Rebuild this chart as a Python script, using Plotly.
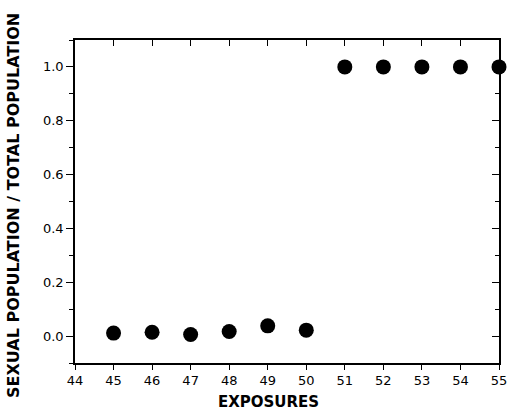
import plotly.graph_objects as go

exposures = [45, 46, 47, 48, 49, 50, 51, 52, 53, 54, 55]
ratio = [0.011, 0.014, 0.006, 0.017, 0.038, 0.022, 1.0, 1.0, 1.0, 1.0, 1.0]
x_ticks = list(range(44, 56))
y_ticks = [0.0, 0.2, 0.4, 0.6, 0.8, 1.0]
y_labels = ["0.0", "0.2", "0.4", "0.6", "0.8", "1.0"]
y_minor = [-0.1, 0.1, 0.3, 0.5, 0.7, 0.9, 1.1]

FONT = "DejaVu Sans"
L, R, T, B = 75, 13, 40, 51
W, H = 512, 414
PW, PH = W - L - R, H - T - B

fig = go.Figure()
fig.add_trace(go.Scatter(x=exposures, y=ratio, mode="markers",
                         marker=dict(size=15, color="black"),
                         cliponaxis=False, showlegend=False))

fig.update_layout(
    width=W, height=H,
    margin=dict(l=L, r=R, t=T, b=B, autoexpand=False),
    paper_bgcolor="white", plot_bgcolor="white",
    font=dict(family=FONT, size=13, color="black"),
    xaxis=dict(range=[44, 55], tickvals=x_ticks, ticktext=[str(v) for v in x_ticks],
               ticks="outside", ticklen=5, tickwidth=1, tickcolor="black",
               showline=True, linecolor="black", linewidth=1.5, showgrid=False,
               zeroline=False, automargin=False, tickfont=dict(size=13)),
    yaxis=dict(range=[-0.1, 1.1], tickvals=y_ticks, ticktext=y_labels,
               ticks="outside", ticklen=7, tickwidth=1, tickcolor="black",
               showline=True, linecolor="black", linewidth=1.5, showgrid=False,
               zeroline=False, automargin=False, tickfont=dict(size=13),
               minor=dict(tickvals=y_minor, ticks="outside", ticklen=4, tickcolor="black")),
    xaxis2=dict(range=[44, 55], overlaying="x", side="top", tickvals=x_ticks,
                ticks="inside", ticklen=6, tickcolor="black", showticklabels=False,
                showline=True, linecolor="black", linewidth=1.5, showgrid=False,
                zeroline=False, automargin=False),
    yaxis2=dict(range=[-0.1, 1.1], overlaying="y", side="right", tickvals=y_ticks,
                ticks="inside", ticklen=7, tickcolor="black", showticklabels=False,
                showline=True, linecolor="black", linewidth=1.5, showgrid=False,
                zeroline=False, automargin=False,
                minor=dict(tickvals=y_minor, ticks="inside", ticklen=4, tickcolor="black")),
    annotations=[
        dict(text="<b>EXPOSURES</b>", xref="paper", yref="paper",
             x=(268 - L) / PW, y=(H - B - 402) / PH, xanchor="center", yanchor="middle",
             showarrow=False, font=dict(family=FONT, size=15)),
        dict(text="<b>SEXUAL POPULATION / TOTAL POPULATION</b>", xref="paper", yref="paper",
             x=(14 - L) / PW, y=(H - B - 206) / PH, xanchor="center", yanchor="middle",
             textangle=-90, showarrow=False, font=dict(family=FONT, size=16)),
    ],
)
fig.add_trace(go.Scatter(x=[44], y=[-0.1], xaxis="x2", yaxis="y2", mode="markers",
                         marker=dict(opacity=0), showlegend=False, hoverinfo="skip"))

fig.write_html("out.html")
